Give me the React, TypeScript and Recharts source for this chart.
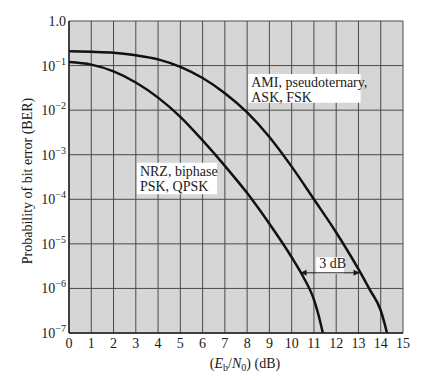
import React from "react";
import {
  CartesianGrid,
  Line,
  LineChart,
  ReferenceArea,
  ReferenceLine,
  XAxis,
  YAxis,
} from "recharts";

// x axis: Eb/N0 in dB
const ebN0Ticks = [0, 1, 2, 3, 4, 5, 6, 7, 8, 9, 10, 11, 12, 13, 14, 15];
// y axis: BER decades
const berTicks = [1e-7, 1e-6, 1e-5, 1e-4, 1e-3, 1e-2, 1e-1, 1];

// NRZ, biphase, PSK, QPSK
const nrzEbN0 = [0, 1, 2, 3, 4, 5, 6, 7, 8, 9, 10, 10.5, 11, 11.2, 11.4];
const nrzBer = [
  0.12, 0.105, 0.0741, 0.0417, 0.0191, 0.00708, 0.00209, 5.62e-4, 1.38e-4,
  2.82e-5, 5.0e-6, 1.9e-6, 5.6e-7, 2.6e-7, 1e-7,
];

// AMI, pseudoternary, ASK, FSK
const amiEbN0 = [0, 1, 2, 3, 4, 5, 6, 7, 8, 9, 10, 11, 12, 13, 13.5, 14, 14.15, 14.28];
const amiBer = [
  0.209, 0.204, 0.195, 0.17, 0.138, 0.0933, 0.0525, 0.024, 0.0089, 0.0025,
  5.4e-4, 1e-4, 1.8e-5, 2.7e-6, 9.5e-7, 3.2e-7, 1.8e-7, 1e-7,
];

const nrzData = nrzEbN0.map((x, i) => ({ x, ber: nrzBer[i] }));
const amiData = amiEbN0.map((x, i) => ({ x, ber: amiBer[i] }));

const FONT = '"Liberation Serif", "Times New Roman", serif';
const INK = "#1a1a1a";

const BerTick = (props: any) => {
  const { x, y, payload } = props;
  const exp = Math.round(Math.log10(payload.value));
  if (exp === 0) {
    return (
      <text x={x} y={y} dy={5} textAnchor="end" fontSize={14} fill={INK} fontFamily={FONT}>
        1.0
      </text>
    );
  }
  return (
    <text x={x} y={y} dy={5} textAnchor="end" fontSize={14} fill={INK} fontFamily={FONT}>
      10
      <tspan dy={-6} fontSize={10}>
        {"\u2212" + -exp}
      </tspan>
    </text>
  );
};

const YTitle = (props: any) => {
  const { viewBox } = props;
  const cx = viewBox.x + 27;
  const cy = viewBox.y + viewBox.height / 2 + 4;
  return (
    <text
      x={cx}
      y={cy}
      textAnchor="middle"
      dominantBaseline="central"
      transform={`rotate(-90 ${cx} ${cy})`}
      fontSize={14}
      fill={INK}
      fontFamily={FONT}
    >
      Probability of bit error (BER)
    </text>
  );
};

const XTitle = (props: any) => {
  const { viewBox } = props;
  const cx = viewBox.x + viewBox.width / 2 + 9;
  return (
    <text x={cx} y={viewBox.y + 35} textAnchor="middle" fontSize={14} fill={INK} fontFamily={FONT}>
      (<tspan fontStyle="italic">E</tspan>
      <tspan dy={3} fontSize={10}>b</tspan>
      <tspan dy={-3}>/</tspan>
      <tspan fontStyle="italic">N</tspan>
      <tspan dy={3} fontSize={10}>0</tspan>
      <tspan dy={-3}>) (dB)</tspan>
    </text>
  );
};

const BoxText = (props: any) => {
  const { viewBox, lines, dx = 3, dy = 13 } = props;
  return (
    <text fontSize={14} fill={INK} fontFamily={FONT}>
      {lines.map((l: string, i: number) => (
        <tspan key={i} x={viewBox.x + dx} y={viewBox.y + dy + i * 15}>
          {l}
        </tspan>
      ))}
    </text>
  );
};

const DoubleArrow = (props: any) => {
  const { x1, y1, x2, y2 } = props;
  const h = 6;
  const w = 3;
  return (
    <g>
      <line x1={x1} y1={y1} x2={x2} y2={y2} stroke={INK} strokeWidth={1} />
      <polygon points={`${x1},${y1} ${x1 + h},${y1 - w} ${x1 + h},${y1 + w}`} fill={INK} />
      <polygon points={`${x2},${y2} ${x2 - h},${y2 - w} ${x2 - h},${y2 + w}`} fill={INK} />
    </g>
  );
};

export default function App() {
  return (
    <div style={{ position: "absolute", left: 0, top: 0, width: 442, height: 380, background: "#fff" }}>
      <LineChart
        width={442}
        height={380}
        margin={{ top: 21, right: 39, bottom: 0, left: 0 }}
        style={{ fontFamily: FONT }}
      >
        <CartesianGrid stroke="#4a4a4a" strokeWidth={1} fill="#d6d6d6" fillOpacity={1} />
        <XAxis
          type="number"
          dataKey="x"
          domain={[0, 15]}
          ticks={ebN0Ticks}
          interval={0}
          height={47}
          tickSize={0}
          tickMargin={5}
          axisLine={{ stroke: "#222", strokeWidth: 1.5 }}
          tick={{ fontSize: 14, fill: INK, fontFamily: FONT }}
          allowDataOverflow
          label={<XTitle />}
        />
        <YAxis
          type="number"
          dataKey="ber"
          scale="log"
          domain={[1e-7, 1]}
          ticks={berTicks}
          interval={0}
          width={69}
          tickSize={0}
          tickMargin={3}
          axisLine={{ stroke: "#222", strokeWidth: 1.5 }}
          tick={<BerTick />}
          allowDataOverflow
          label={<YTitle />}
        />
        <ReferenceArea
          x1={8.05}
          x2={13.1}
          y1={0.0147}
          y2={0.065}
          fill="#fff"
          fillOpacity={1}
          stroke="none"
          label={<BoxText lines={["AMI, pseudoternary,", "ASK, FSK"]} />}
        />
        <ReferenceArea
          x1={3.05}
          x2={6.65}
          y1={1.3e-4}
          y2={6.6e-4}
          fill="#fff"
          fillOpacity={1}
          stroke="none"
          label={<BoxText lines={["NRZ, biphase", "PSK, QPSK"]} />}
        />
        <ReferenceArea
          x1={11.1}
          x2={12.35}
          y1={2.1e-6}
          y2={5e-6}
          fill="#fff"
          fillOpacity={1}
          stroke="none"
          label={<BoxText lines={["3 dB"]} dx={3} dy={11} />}
        />
        <ReferenceLine
          segment={[
            { x: 10.4, y: 2.24e-6 },
            { x: 13.05, y: 2.24e-6 },
          ]}
          shape={<DoubleArrow />}
        />
        <Line
          data={amiData}
          dataKey="ber"
          type="monotone"
          stroke="#111"
          strokeWidth={2.5}
          dot={false}
          isAnimationActive={false}
        />
        <Line
          data={nrzData}
          dataKey="ber"
          type="monotone"
          stroke="#111"
          strokeWidth={2.5}
          dot={false}
          isAnimationActive={false}
        />
      </LineChart>
    </div>
  );
}
